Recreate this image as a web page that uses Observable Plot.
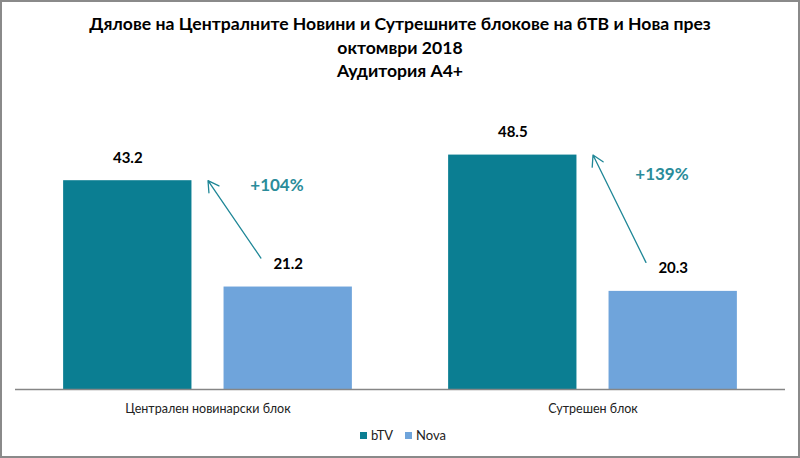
<!DOCTYPE html>
<html>
<head>
<meta charset="utf-8">
<script src="https://cdn.jsdelivr.net/npm/d3@7"></script>
<script src="https://cdn.jsdelivr.net/npm/@observablehq/plot@0.6"></script>
<style>
  html, body { margin: 0; padding: 0; background: #fff; }
  #wrap { position: relative; width: 800px; height: 458px; overflow: hidden; font-family: Lato, "Noto Sans", sans-serif; }
  #chart { position: absolute; left: 0; top: 0; }
  #title { position: absolute; left: 0; top: 12px; width: 800px; text-align: center; font-weight: bold; font-size: 17.6px; line-height: 23.5px; color: #000; }
  #legend { position: absolute; left: 0; top: 427px; width: 806px; display: flex; justify-content: center; gap: 12px; font-size: 13px; color: #222; }
  #legend span.sw { display: inline-block; width: 7px; height: 7px; margin-right: 4px; vertical-align: middle; position: relative; top: -1px; }
  #border { position: absolute; left: 0; top: 0; width: 800px; height: 458px; box-sizing: border-box; border: 2px solid #8a8a8a; pointer-events: none; }
</style>
</head>
<body>
<div id="wrap">
  <div id="chart"></div>
  <div id="title">Дялове на Централните Новини и Сутрешните блокове на бТВ и Нова през<br>октомври 2018<br>Аудитория А4+</div>
  <div id="legend"></div>
  <div id="border"></div>
</div>
<script>
const groups = ["Централен новинарски блок", "Сутрешен блок"];
const series = ["bTV", "Nova"];
const btv = [43.2, 48.5];
const nova = [21.2, 20.3];
const pctLabels = ["+104%", "+139%"];
const colors = ["#0B7E92", "#6FA4DB"];

const rows = groups.flatMap((g, i) => [
  {group: g, s: "bTV", k: series.indexOf("bTV"), v: btv[i]},
  {group: g, s: "Nova", k: series.indexOf("Nova"), v: nova[i]}
]);
const notes = groups.map((g, i) => ({group: g, b: btv[i], n: nova[i], pct: pctLabels[i]}));
const kB = series.indexOf("bTV"), kN = series.indexOf("Nova");
const font = "Lato, 'Noto Sans', sans-serif";

const chart = Plot.plot({
  width: 800, height: 458,
  marginTop: 99, marginBottom: 69, marginLeft: 15, marginRight: 15,
  style: {fontFamily: font, background: "transparent"},
  fx: {domain: groups, padding: 0, axis: null},
  x: {domain: [-0.7, 1.7], axis: null},
  y: {domain: [0, 60], axis: null},
  color: {domain: series, range: colors},
  marks: [
    Plot.rectY(rows, {fx: "group", x1: d => d.k - 0.4, x2: d => d.k + 0.4, y1: 0, y2: "v", fill: "s"}),
    Plot.ruleY([0], {stroke: "#868686", strokeWidth: 1.5}),
    Plot.text(rows, {fx: "group", x: "k", y: "v", text: d => d.v.toFixed(1), dy: -23, fontWeight: "bold", fontSize: 15, fill: "#000"}),
    Plot.text(groups, {fx: d => d, x: () => (kB + kN) / 2, y: () => 0, text: d => d, dy: 19, fontSize: 12.5, fill: "#222"}),
    Plot.arrow(notes, {fx: "group", x1: () => kN - 0.17, y1: d => d.n + 6, x2: () => kB + 0.5, y2: "b", stroke: "#1F8797", strokeWidth: 1.3, headLength: 14, bend: false}),
    Plot.text(notes, {fx: "group", x: () => kN - 0.07, y: d => (d.b + d.n) / 2 + 10, text: "pct", fill: "#2A8C9A", fontWeight: "bold", fontSize: 17})
  ]
});
document.getElementById("chart").appendChild(chart);

const lg = document.getElementById("legend");
series.forEach((s, i) => {
  const item = document.createElement("span");
  item.innerHTML = `<span class="sw" style="background:${colors[i]}"></span>${s}`;
  lg.appendChild(item);
});
</script>
</body>
</html>
